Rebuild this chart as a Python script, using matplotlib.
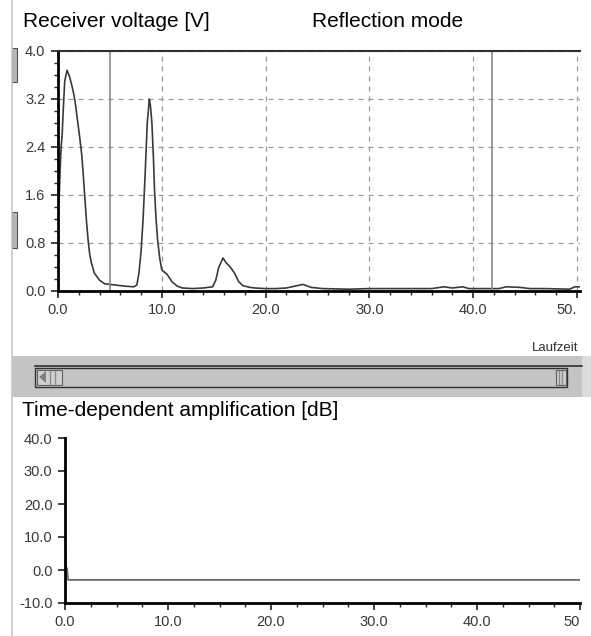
import numpy as np
import matplotlib
matplotlib.use('Agg')
import matplotlib.pyplot as plt
from matplotlib.patches import Rectangle, Polygon
from matplotlib.ticker import MultipleLocator, FormatStrFormatter

# receiver echo trace (time in us, amplitude in V)
echo_t = [0.0, 0.1, 0.2, 0.3, 0.4, 0.5, 0.65, 0.87, 1.1, 1.3, 1.5, 1.65, 1.8, 1.95, 2.1,
          2.3, 2.45, 2.6, 2.75, 2.9, 3.05, 3.2, 3.5, 4.0, 4.5, 5.5, 6.5, 7.3, 7.6, 7.8,
          8.0, 8.2, 8.4, 8.6, 8.8, 8.9, 9.05, 9.2, 9.3, 9.45, 9.6, 9.8, 10.0, 10.5, 11.0,
          11.5, 12.0, 13.0, 14.0, 14.9, 15.2, 15.5, 15.9, 16.2, 16.6, 17.0, 17.4, 17.8,
          18.5, 19.0, 20.0, 21.0, 22.0, 22.8, 23.6, 24.4, 25.5, 28.0, 30.0, 33.0, 36.0,
          37.2, 38.0, 39.0, 39.6, 41.0, 42.5, 43.2, 44.5, 45.5, 47.0, 49.3, 49.8, 50.3]
echo_v = [1.3, 1.5, 2.0, 2.4, 2.6, 3.0, 3.5, 3.68, 3.58, 3.45, 3.3, 3.15, 2.95, 2.75, 2.55,
          2.25, 1.9, 1.52, 1.15, 0.85, 0.62, 0.48, 0.3, 0.18, 0.12, 0.1, 0.08, 0.07, 0.1, 0.3,
          0.65, 1.2, 1.96, 2.8, 3.2, 3.1, 2.8, 2.2, 1.68, 1.2, 0.85, 0.55, 0.35, 0.28, 0.15,
          0.08, 0.05, 0.04, 0.05, 0.07, 0.18, 0.4, 0.55, 0.47, 0.4, 0.3, 0.16, 0.09,
          0.06, 0.05, 0.04, 0.04, 0.05, 0.08, 0.11, 0.06, 0.04, 0.03, 0.04, 0.04, 0.04,
          0.07, 0.05, 0.07, 0.04, 0.04, 0.04, 0.07, 0.06, 0.04, 0.04, 0.03, 0.07, 0.07]
cursor_pos = [5.0, 41.8]
time_ticks = [0, 10, 20, 30, 40, 50]
echo_time_labels = ['0.0', '10.0', '20.0', '30.0', '40.0', '50.']
gain_time_labels = ['0.0', '10.0', '20.0', '30.0', '40.0', '50']

# time-dependent gain curve (dB)
gain_t = [0.0, 0.05, 0.12, 0.2, 0.3, 50.0]
gain_db = [3.3, 3.3, 0.5, 0.5, -3.0, -3.0]

W, H = 591, 636
fig = plt.figure(figsize=(W / 100, H / 100), dpi=100)
fig.patch.set_facecolor('white')

def fx(p):
    return p / W

def fy(p):
    return 1 - p / H

tick_font = dict(family=['Liberation Sans', 'DejaVu Sans'], size=10.5, color='#383838')
title_font = dict(family=['Liberation Sans', 'DejaVu Sans'], size=15, color='black')

def style_labels(ax):
    for lab in ax.get_xticklabels() + ax.get_yticklabels():
        lab.set(**tick_font)
    # last time label sits flush with the panel edge
    ax.get_xticklabels()[-1].set_ha('right')

# upper plot: receiver voltage
ax1 = fig.add_axes([fx(58), fy(291), fx(580) - fx(58), fy(51) - fy(291)])
ax1.plot(echo_t, echo_v, color='#3a3a3a', lw=1.2)
for c in cursor_pos:
    ax1.axvline(c, color='#8a8a8a', lw=1.2)
ax1.set_xlim(0, 50.3)
ax1.set_ylim(0, 4.0)
ax1.set_xticks(time_ticks, echo_time_labels)
ax1.xaxis.set_minor_locator(MultipleLocator(2))
ax1.set_yticks([0, 0.8, 1.6, 2.4, 3.2, 4.0])
ax1.yaxis.set_minor_locator(MultipleLocator(0.2))
ax1.yaxis.set_major_formatter(FormatStrFormatter('%.1f'))
ax1.grid(True, which='major', color='#9a9a9a', ls=(0, (4, 4)), lw=0.9)
ax1.spines['right'].set_visible(False)
ax1.spines['left'].set_linewidth(2.0)
ax1.spines['bottom'].set_linewidth(2.0)
ax1.spines['top'].set_linewidth(1.5)
ax1.spines['top'].set_color('#303030')
ax1.tick_params(which='major', length=5, width=1.2, color='#202020', pad=4)
ax1.tick_params(which='minor', length=3, width=1.0, color='#202020')
style_labels(ax1)

# lower plot: time-dependent amplification
ax2 = fig.add_axes([fx(65), fy(603), fx(580) - fx(65), fy(438) - fy(603)])
ax2.plot(gain_t, gain_db, color='#6e6e6e', lw=1.3)
ax2.set_xlim(0, 50)
ax2.set_ylim(-10, 40)
ax2.set_xticks(time_ticks, gain_time_labels)
ax2.xaxis.set_minor_locator(MultipleLocator(2.5))
ax2.set_yticks([-10, 0, 10, 20, 30, 40])
ax2.yaxis.set_major_formatter(FormatStrFormatter('%.1f'))
ax2.spines['top'].set_visible(False)
ax2.spines['right'].set_visible(False)
ax2.spines['left'].set_linewidth(2.0)
ax2.spines['bottom'].set_linewidth(2.0)
ax2.tick_params(which='major', length=5, width=1.2, color='#202020', pad=4)
ax2.tick_params(which='minor', length=3, width=1.0, color='#202020')
style_labels(ax2)

# titles and axis caption
fig.text(fx(23), fy(27), 'Receiver voltage [V]', ha='left', va='baseline', **title_font)
fig.text(fx(312), fy(27), 'Reflection mode', ha='left', va='baseline', **title_font)
fig.text(fx(22), fy(416), 'Time-dependent amplification [dB]', ha='left', va='baseline', **title_font)
fig.text(fx(578), fy(351), 'Laufzeit', ha='right', va='baseline',
         family=['Liberation Sans', 'DejaVu Sans'], size=9.5, color='#303030')

# window frame on the left and small slider handles
fig.add_artist(plt.Line2D([fx(12), fx(12)], [fy(0), fy(636)], color='#c8c8c8', lw=1.2))
for top, bot in [(48, 82), (212, 248)]:
    fig.add_artist(Rectangle((fx(12), fy(bot)), fx(17) - fx(12), fy(top) - fy(bot),
                             facecolor='#b8b8b8', edgecolor='#505050', lw=0.8))

# scrollbar between the two plots
fig.add_artist(Rectangle((fx(12), fy(397)), fx(582) - fx(12), fy(356) - fy(397),
                         facecolor='#c4c4c4', edgecolor='none'))
fig.add_artist(Rectangle((fx(582), fy(397)), fx(591) - fx(582), fy(356) - fy(397),
                         facecolor='#dcdcdc', edgecolor='none'))
fig.add_artist(plt.Line2D([fx(35), fx(582)], [fy(366), fy(366)], color='#303030', lw=1.2))
fig.add_artist(Rectangle((fx(35), fy(387)), fx(567) - fx(35), fy(368) - fy(387),
                         facecolor='#c4c4c4', edgecolor='#303030', lw=1.0))
fig.add_artist(Rectangle((fx(37), fy(385)), fx(62) - fx(37), fy(370) - fy(385),
                         facecolor='#d0d0d0', edgecolor='#606060', lw=0.8))
fig.add_artist(Polygon([[fx(39), fy(377)], [fx(46), fy(371)], [fx(46), fy(383)]],
                       closed=True, facecolor='#808080', edgecolor='none'))
for xp in [50, 55]:
    fig.add_artist(plt.Line2D([fx(xp), fx(xp)], [fy(371), fy(384)], color='#8a8a8a', lw=1.0))
fig.add_artist(Rectangle((fx(556), fy(385)), fx(566) - fx(556), fy(370) - fy(385),
                         facecolor='#d0d0d0', edgecolor='#606060', lw=0.8))
for xp in [559, 562]:
    fig.add_artist(plt.Line2D([fx(xp), fx(xp)], [fy(371), fy(384)], color='#8a8a8a', lw=1.0))

fig.savefig('out.png', dpi=100)
